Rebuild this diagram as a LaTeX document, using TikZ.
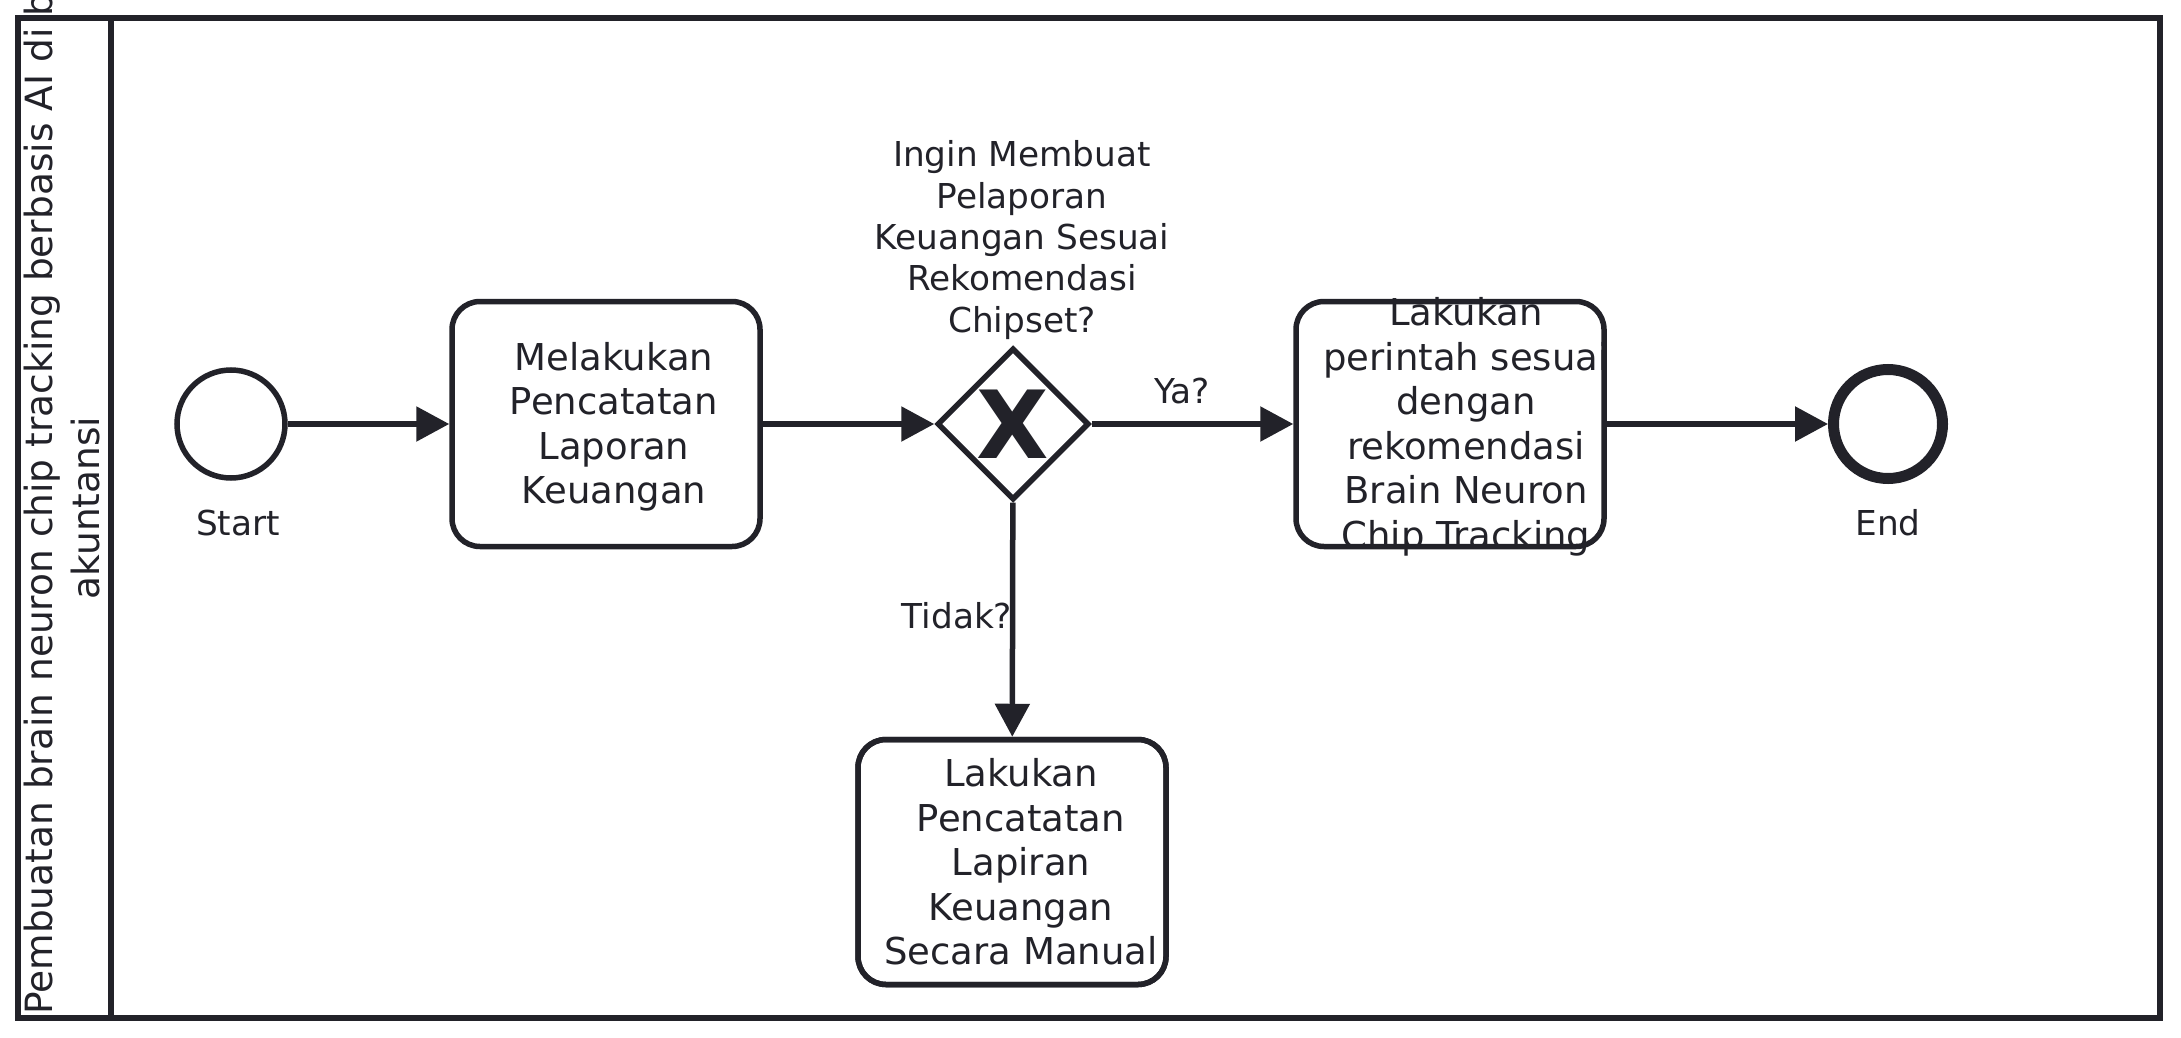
\documentclass[tikz,border=0pt]{standalone}
\usepackage{fontspec}
\setmainfont{DejaVu Sans}
\usetikzlibrary{arrows.meta,shapes.geometric}
\definecolor{ink}{RGB}{34,34,41}
\begin{document}
\begin{tikzpicture}[x=1pt,y=-1pt,
  flow/.style={draw=ink,line width=5.5pt,-{Triangle[length=33pt,width=34pt]}},
  task/.style={draw=ink,line width=5.5pt,rounded corners=28pt,minimum width=308pt,minimum height=245pt,inner sep=0pt},
  tasktext/.style={text=ink,align=center,font=\fontsize{37}{44.5}\selectfont,inner sep=0pt},
  lbl/.style={text=ink,align=center,font=\fontsize{34.3}{41.4}\selectfont,inner sep=0pt},
  poollbl/.style={text=ink,font=\fontsize{37.5}{44.5}\selectfont,inner sep=0pt,rotate=90},
  event/.style={circle,draw=ink,line width=5.5pt,minimum size=108pt,inner sep=0pt},
  endevent/.style={circle,draw=ink,line width=11pt,minimum size=109pt,inner sep=0pt},
  gw/.style={diamond,aspect=1,draw=ink,line width=5.5pt,minimum size=152pt,inner sep=0pt,text=ink}
]
\useasboundingbox (0,0) rectangle (2181,1038);
\clip (0,0) rectangle (2181,1038);
\fill[white] (0,0) rectangle (2181,1038);
% pool
\draw[ink,line width=5.5pt] (18,18) rectangle (2160,1018);
\draw[ink,line width=5.5pt] (111,18) -- (111,1018);
\node[poollbl,anchor=west] (pool1) at (42,1015) {Pembuatan brain neuron chip tracking berbasis AI di bidang};
\node[poollbl] (pool2) at (86,508) {akuntansi};
% events
\node[event] (start) at (231,424) {};
\node[lbl] (startlbl) at (238,523) {Start};
\node[endevent] (end) at (1888,424) {};
\node[lbl] (endlbl) at (1888,523) {End};
% task 1
\node[task] (t1) at (606,424) {};
\node[tasktext] (t1text) at (614,427) {Melakukan\\Pencatatan\\Laporan\\Keuangan};
% gateway
\node[gw] (gw) at (1013,424) {\fontsize{94}{94}\selectfont\bfseries X};
\node[lbl] (gwlbl) at (1022,240) {Ingin Membuat\\Pelaporan\\Keuangan Sesuai\\Rekomendasi\\Chipset?};
% task 2 (text first, border on top)
\node[tasktext] (t2text) at (1466,427) {Lakukan\\perintah sesuai\\dengan\\rekomendasi\\Brain Neuron\\Chip Tracking};
\node[task] (t2) at (1450,424) {};
% task 3
\node[task,fill=white] (t3) at (1012,862) {};
\node[tasktext] (t3text) at (1021,862) {Lakukan\\Pencatatan\\Lapiran\\Keuangan\\Secara Manual};
\node[task] at (1012,862) {};
% connectors
\draw[flow] (start) -- (t1);
\draw[flow] (t1) -- (gw);
\draw[flow] (gw) -- (t2);
\draw[flow] (t2) -- (end);
\draw[flow] (gw) -- (t3);
\node[lbl] (ya) at (1182,391) {Ya?};
\node[lbl] (tidak) at (957,616) {Tidak?};
\end{tikzpicture}
\end{document}
